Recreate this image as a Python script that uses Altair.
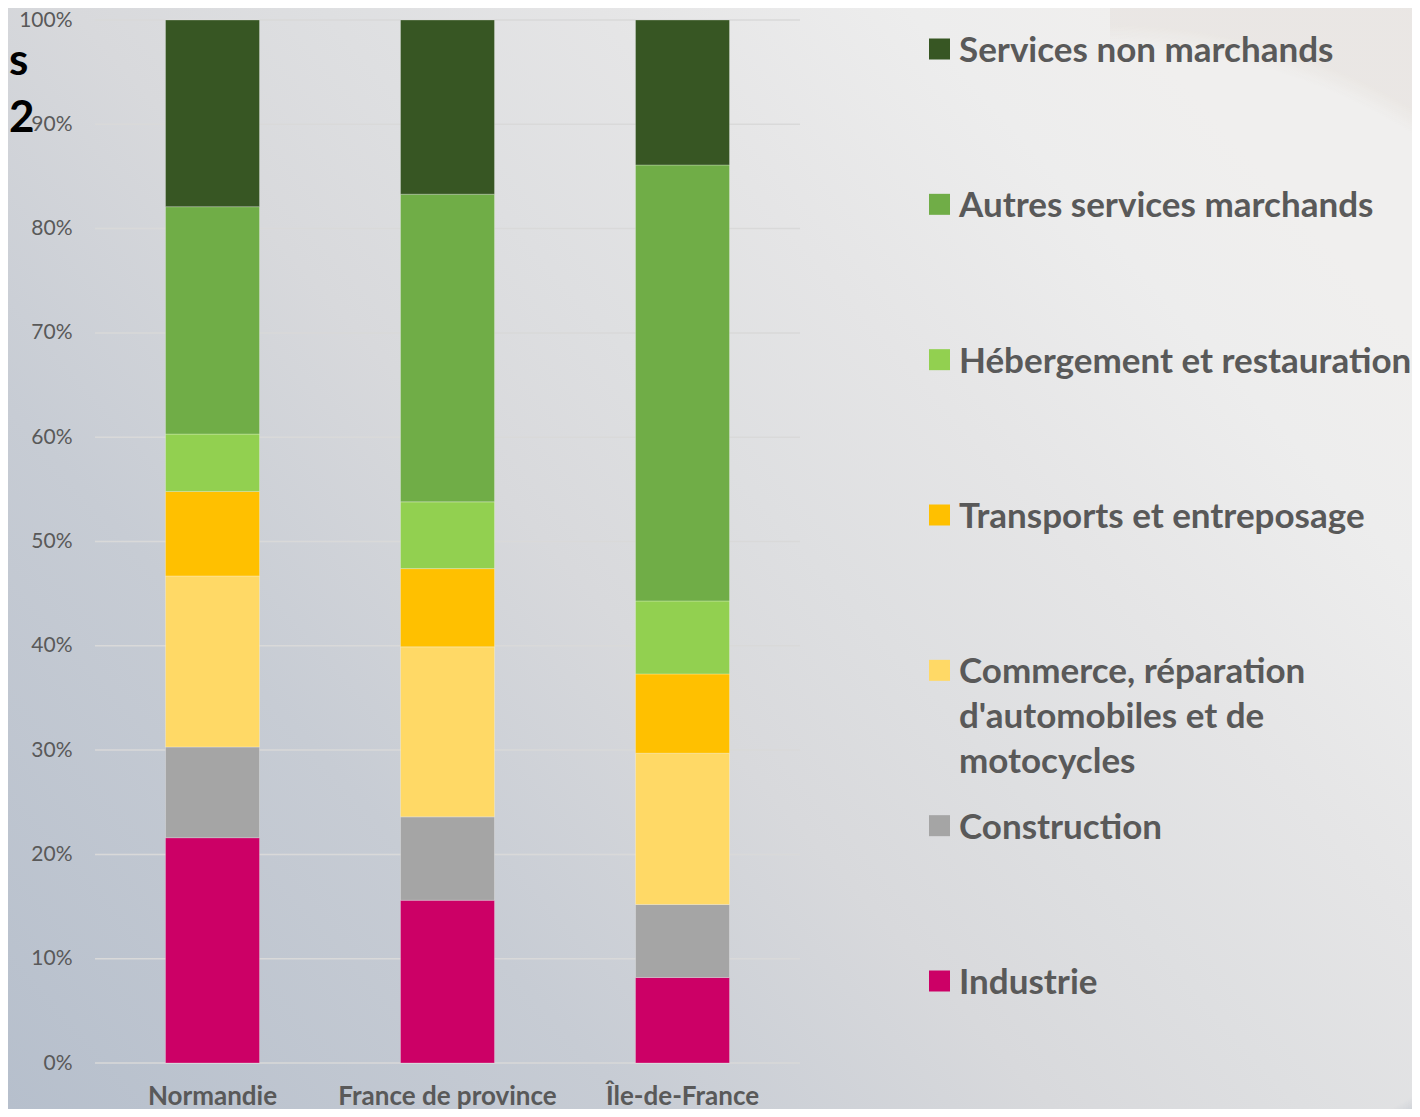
import altair as alt
import pandas as pd

regions = ["Normandie", "France de province", "Île-de-France"]
sectors = [
    "Industrie",
    "Construction",
    "Commerce, réparation d'automobiles et de motocycles",
    "Transports et entreposage",
    "Hébergement et restauration",
    "Autres services marchands",
    "Services non marchands",
]
legend_labels = [
    "Industrie",
    "Construction",
    "Commerce, réparation\nd'automobiles et de\nmotocycles",
    "Transports et entreposage",
    "Hébergement et restauration",
    "Autres services marchands",
    "Services non marchands",
]
normandie = [21.6, 8.7, 16.4, 8.1, 5.5, 21.8, 17.9]
province = [15.6, 8.0, 16.3, 7.5, 6.4, 29.5, 16.7]
idf = [8.2, 7.0, 14.5, 7.6, 7.0, 41.8, 13.9]
colors = ["#CC0066", "#A5A5A5", "#FFD966", "#FFC000", "#92D050", "#70AD47", "#375623"]
y_ticks = [0, 0.1, 0.2, 0.3, 0.4, 0.5, 0.6, 0.7, 0.8, 0.9, 1.0]
title_fragments = ["s", "2"]

rows = []
for reg, vals in zip(regions, [normandie, province, idf]):
    for i, (s, v) in enumerate(zip(sectors, vals)):
        rows.append({"region": reg, "sector": s, "value": v, "idx": i})
df = pd.DataFrame(rows)

color_scale = alt.Scale(domain=sectors, range=colors)
FONT = "Lato"
GREY = "#595959"

W, H = 705, 1043
OX, OY = 87, 12          # plot origin inside the svg
SVG_W, SVG_H = 1404, 1101

base_gradient = {
    "gradient": "linear", "x1": 0, "y1": 1, "x2": 1, "y2": 0.3,
    "stops": [
        {"offset": 0.0, "color": "#b6bfcc"},
        {"offset": 0.3, "color": "#c7ccd4"},
        {"offset": 0.5, "color": "#d8d9dc"},
        {"offset": 0.62, "color": "#dedfe1"},
        {"offset": 0.75, "color": "#e5e5e6"},
        {"offset": 0.9, "color": "#ededed"},
        {"offset": 1.0, "color": "#f0efee"},
    ],
}


def swoosh(cx, cy, x0, y0, side, rgb, alpha):
    # circle of radius 568 px centred on (cx, cy) (svg px), drawn in a square box
    r2 = 590 / side
    return {
        "gradient": "radial",
        "x1": (cx - x0) / side, "y1": (cy - y0) / side, "r1": 0,
        "x2": (cx - x0) / side, "y2": (cy - y0) / side, "r2": r2,
        "stops": [
            {"offset": 0.0, "color": f"rgba({rgb},0)"},
            {"offset": 568 / 590, "color": f"rgba({rgb},0)"},
            {"offset": 1.0, "color": f"rgba({rgb},{alpha})"},
        ],
    }


one = pd.DataFrame({"a": [0]})
bg = alt.Chart(one).mark_rect(fill=base_gradient).encode(
    x=alt.value(-OX), x2=alt.value(SVG_W - OX), y=alt.value(-OY), y2=alt.value(SVG_H - OY)
)
CX, CY = 1102, 607
tr_x0, tr_y0, tr_s = 1102, 0, 302
bg_tr = alt.Chart(one).mark_rect(fill=swoosh(CX, CY, tr_x0, tr_y0, tr_s, "200,185,170", 0.15)).encode(
    x=alt.value(tr_x0 - OX), x2=alt.value(tr_x0 + tr_s - OX),
    y=alt.value(tr_y0 - OY), y2=alt.value(tr_y0 + tr_s - OY),
)
br_x0, br_y0, br_s = 1304, 1001, 100
bg_br = alt.Chart(one).mark_rect(fill=swoosh(CX, CY, br_x0, br_y0, br_s, "150,160,180", 0.4)).encode(
    x=alt.value(br_x0 - OX), x2=alt.value(br_x0 + br_s - OX),
    y=alt.value(br_y0 - OY), y2=alt.value(br_y0 + br_s - OY),
)

grid = alt.Chart(pd.DataFrame({"t": y_ticks})).mark_rule(color="#d9d9d9", strokeWidth=1.5).encode(
    y=alt.Y("t:Q", scale=alt.Scale(domain=[0, 1]))
)

bars = alt.Chart(df).mark_bar(stroke="white", strokeOpacity=0.25, strokeWidth=1).encode(
    x=alt.X(
        "region:N", sort=regions,
        scale=alt.Scale(paddingInner=0.6, paddingOuter=0.3),
        axis=alt.Axis(title=None, labelAngle=0, labelFont=FONT, labelFontWeight="bold",
                      labelFontSize=26, labelColor=GREY, ticks=False, domain=False,
                      labelPadding=20, labelLimit=400, grid=False, zindex=1),
    ),
    y=alt.Y(
        "value:Q", stack="normalize", scale=alt.Scale(domain=[0, 1]),
        axis=alt.Axis(title=None, values=y_ticks, format=".0%", labelFont=FONT,
                      labelFontSize=21, labelColor=GREY, ticks=False, tickSize=0,
                      domain=False, grid=False, labelPadding=23, zindex=1),
    ),
    color=alt.Color("sector:N", scale=color_scale, legend=None),
    order=alt.Order("idx:Q"),
)

frag_df = pd.DataFrame({"t": title_fragments})
frag1 = alt.Chart(frag_df[frag_df.t == "s"]).mark_text(
    align="left", baseline="alphabetic", font=FONT, fontWeight="bold", fontSize=44, color="#000000"
).encode(x=alt.value(-86), y=alt.value(67 - OY), text="t:N")
frag2 = alt.Chart(frag_df[frag_df.t == "2"]).mark_text(
    align="left", baseline="alphabetic", font=FONT, fontWeight="bold", fontSize=44, color="#000000"
).encode(x=alt.value(-86), y=alt.value(124 - OY), text="t:N")

left = alt.layer(bg, bg_tr, bg_br, grid, bars, frag1, frag2).properties(width=W, height=H)

legend_order = list(reversed(sectors))
leg_df = pd.DataFrame({"sector": sectors, "label": legend_labels})
leg_base = alt.Chart(leg_df).encode(
    y=alt.Y("sector:N", sort=legend_order,
            scale=alt.Scale(type="point", range=[41 - OY, 973 - OY], padding=0), axis=None)
)
sq = leg_base.mark_square(size=441, opacity=1, filled=True).encode(
    x=alt.value(139.5),
    color=alt.Color("sector:N", scale=color_scale, legend=None),
)
tx = leg_base.mark_text(
    align="left", baseline="top", dy=-15, font=FONT, fontWeight="bold", fontSize=35,
    color=GREY, lineBreak="\n", lineHeight=45,
).encode(x=alt.value(159), text="label:N")
right = alt.layer(sq, tx).properties(width=590, height=H)

chart = alt.hconcat(left, right, spacing=0, bounds="flush").properties(padding=0).configure_view(strokeWidth=0)

chart.save("out.html", embed_options={"renderer": "svg", "actions": False})
